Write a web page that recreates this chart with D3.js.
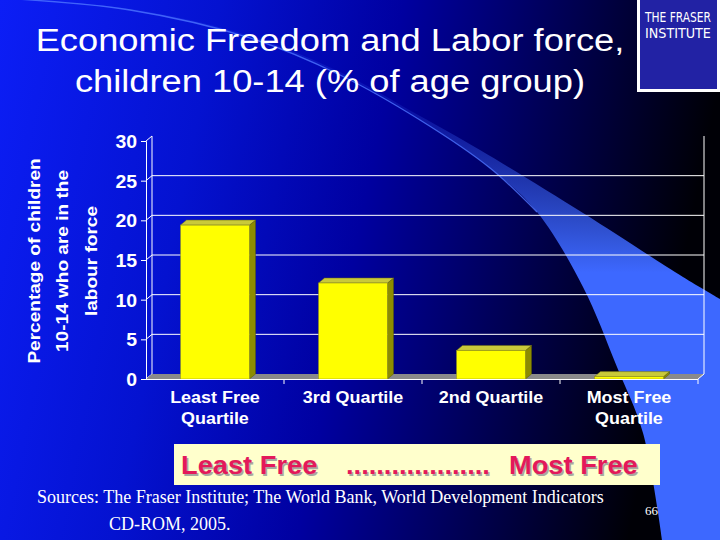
<!DOCTYPE html>
<html>
<head>
<meta charset="utf-8">
<script src="https://cdn.jsdelivr.net/npm/d3@7/dist/d3.min.js"></script>
<style>
  html, body { margin: 0; padding: 0; background: #000; }
  svg { display: block; }
</style>
</head>
<body>
<script>
// ---------- data ----------
const categories = ["Least Free Quartile", "3rd Quartile", "2nd Quartile", "Most Free Quartile"];
const categoryLines = [["Least Free", "Quartile"], ["3rd Quartile"], ["2nd Quartile"], ["Most Free", "Quartile"]];
const values = [19.4, 12.1, 3.6, 0.3];
const yTicks = [0, 5, 10, 15, 20, 25, 30];
const titleLines = ["Economic Freedom and Labor force,", "children 10-14 (% of age group)"];
const yTitleLines = ["Percentage of children", "10-14 who are in the", "labour force"];
const sourceLines = ["Sources: The Fraser Institute; The World Bank, World Development Indicators", "CD-ROM, 2005."];
const logoLines = ["THE FRASER", "INSTITUTE"];

// ---------- setup ----------
const W = 720, H = 540;
const svg = d3.select("body").append("svg").attr("width", W).attr("height", H);
const defs = svg.append("defs");

function stretch(sel, k) {
  sel.each(function () {
    const len = this.getComputedTextLength();
    d3.select(this).attr("textLength", len * k).attr("lengthAdjust", "spacingAndGlyphs");
  });
}

// background gradient
const bg = defs.append("linearGradient").attr("id", "bg").attr("x1", 0).attr("y1", 0).attr("x2", 1).attr("y2", 0.15);
[[0, "#0c1ef6"], [0.3, "#0412d0"], [0.55, "#0000a0"], [0.8, "#00004a"], [1, "#000006"]].forEach(([o, c]) =>
  bg.append("stop").attr("offset", o).attr("stop-color", c));
svg.append("rect").attr("width", W).attr("height", H).attr("fill", "url(#bg)");

// swoosh
const sw = defs.append("linearGradient").attr("id", "sw")
  .attr("gradientUnits", "userSpaceOnUse").attr("x1", 0).attr("x2", 0).attr("y1", 110).attr("y2", 360);
[[0, 0.15], [0.35, 0.6], [0.65, 1], [1, 1]].forEach(([o, a]) =>
  sw.append("stop").attr("offset", o).attr("stop-color", "#3d68ff").attr("stop-opacity", a));

const lowerPts = [[0, -2], [130, 10], [250, 38], [340, 75], [420, 120], [490, 168], [537, 212], [583, 287], [617, 367], [643, 433], [662, 540]];
const upperPts = [[0, -2], [130, 9], [250, 36], [340, 72], [420, 116], [480, 150], [583, 213], [683, 277], [720, 299]];
const curve = d3.line().curve(d3.curveCatmullRom.alpha(0.5));
const upperD = curve(upperPts);
const lowerRev = curve(lowerPts.slice().reverse());
svg.append("path")
  .attr("d", upperD + "L720,540" + "L" + lowerRev.slice(1) + "Z")
  .attr("fill", "url(#sw)");
svg.append("path").attr("d", curve(lowerPts.slice(0, 7))).attr("fill", "none")
  .attr("stroke", "#4d74ff").attr("stroke-width", 1.3).attr("stroke-opacity", 0.8);

// ---------- title ----------
const title = svg.append("g").attr("font-family", "Arial, 'Liberation Sans', sans-serif").attr("fill", "#fff")
  .attr("font-size", 31).attr("text-anchor", "middle");
title.selectAll("text").data(titleLines).join("text")
  .attr("x", 330).attr("y", (d, i) => 51 + i * 41).text(d => d).call(stretch, 1.17);

// logo
const logo = svg.append("g");
logo.append("rect").attr("x", 637).attr("y", -2).attr("width", 86).attr("height", 94).attr("fill", "#ffffff");
logo.append("rect").attr("x", 640).attr("y", -2).attr("width", 77).attr("height", 91).attr("fill", "#2222a4");
logo.selectAll("text").data(logoLines).join("text")
  .attr("x", 0).attr("y", 0)
  .attr("font-family", "'Liberation Sans Narrow', 'DejaVu Sans Condensed', Arial, sans-serif")
  .attr("font-size", 14).attr("fill", "#fff")
  .text(d => d)
  .each(function (d, i) {
    const len = this.getComputedTextLength();
    d3.select(this).attr("transform", `translate(645,${22 + i * 16}) scale(${(66 / len).toFixed(3)},1)`);
  });

// ---------- chart ----------
const dx = 6, dy = 5;
const x0 = 146, x1 = 698;
const x = d3.scaleBand().domain(categories).range([x0, x1]).paddingInner(0.5).paddingOuter(0.25);
const y = d3.scaleLinear().domain([0, 30]).range([379, 141]);

const chart = svg.append("g");

// back wall gridlines (no line at top)
chart.selectAll("line.grid").data(yTicks.filter(t => t > 0 && t < 30)).join("line")
  .attr("x1", x0 + dx).attr("x2", x1 + dx).attr("y1", d => y(d) - dy).attr("y2", d => y(d) - dy)
  .attr("stroke", "#fff").attr("stroke-width", 1);
// side wall diagonals
chart.selectAll("line.diag").data(yTicks).join("line")
  .attr("x1", x0).attr("x2", x0 + dx).attr("y1", d => y(d)).attr("y2", d => y(d) - dy)
  .attr("stroke", "#fff").attr("stroke-width", 1);
// back wall verticals
[x0 + dx, x1 + dx].forEach(xx => chart.append("line")
  .attr("x1", xx).attr("x2", xx).attr("y1", y(30) - dy).attr("y2", y(0) - dy)
  .attr("stroke", "#fff").attr("stroke-width", 1));

// floor
chart.append("polygon")
  .attr("points", [[x0, y(0)], [x1, y(0)], [x1 + dx, y(0) - dy], [x0 + dx, y(0) - dy]].join(" "))
  .attr("fill", "#8a8a8a");
chart.append("line").attr("x1", x1).attr("y1", y(0)).attr("x2", x1 + dx).attr("y2", y(0) - dy)
  .attr("stroke", "#fff").attr("stroke-width", 1);

// bars
const bars = chart.selectAll("g.bar").data(values.map((v, i) => ({ v, c: categories[i] }))).join("g");
bars.append("polygon") // side
  .attr("points", d => {
    const xr = x(d.c) + x.bandwidth(), yt = y(d.v), yb = y(0);
    return [[xr, yt], [xr + dx, yt - dy], [xr + dx, yb - dy], [xr, yb]].join(" ");
  })
  .attr("fill", "#8c8c00").attr("stroke", "#5a5a00").attr("stroke-width", 0.5);
bars.append("polygon") // top
  .attr("points", d => {
    const xl = x(d.c), xr = xl + x.bandwidth(), yt = y(d.v);
    return [[xl, yt], [xl + dx, yt - dy], [xr + dx, yt - dy], [xr, yt]].join(" ");
  })
  .attr("fill", "#c9c93a").attr("stroke", "#6a6a10").attr("stroke-width", 0.5);
bars.append("rect") // front
  .attr("x", d => x(d.c)).attr("width", x.bandwidth())
  .attr("y", d => y(d.v)).attr("height", d => y(0) - y(d.v))
  .attr("fill", "#ffff00").attr("stroke", "#8a8a20").attr("stroke-width", 0.5);

// front axes
const yAxis = d3.axisLeft(y).tickValues(yTicks).tickSize(5).tickPadding(4);
const gy = chart.append("g").attr("transform", `translate(${x0},0)`).call(yAxis);
gy.select(".domain").attr("stroke", "#fff");
gy.selectAll(".tick line").attr("stroke", "#fff");
gy.selectAll(".tick text").attr("fill", "#fff").attr("font-size", 18).attr("font-weight", "bold")
  .attr("font-family", "Arial, 'Liberation Sans', sans-serif").attr("dy", "0.36em").call(stretch, 1.08);

const xAxis = d3.axisBottom(x).tickSize(0).tickFormat("");
const gx = chart.append("g").attr("transform", `translate(0,${y(0)})`).call(xAxis);
gx.select(".domain").attr("stroke", "#fff").attr("d", `M${x0},0.5H${x1}`);
// category separators
const bounds = categories.map(c => x(c) + x.bandwidth() + x.step() * x.paddingInner() / 2);
gx.selectAll("line.sep").data(bounds).join("line")
  .attr("x1", d => d).attr("x2", d => d).attr("y1", 0).attr("y2", 5).attr("stroke", "#fff");

// category labels
const cl = chart.append("g").attr("font-family", "Arial, 'Liberation Sans', sans-serif")
  .attr("font-weight", "bold").attr("font-size", 16).attr("fill", "#fff").attr("text-anchor", "middle");
categories.forEach((c, i) => {
  cl.selectAll(null).data(categoryLines[i]).join("text")
    .attr("x", x(c) + x.bandwidth() / 2).attr("y", (d, j) => 403 + j * 21).text(d => d).call(stretch, 1.12);
});

// y title
const yt = svg.append("g").attr("font-family", "Arial, 'Liberation Sans', sans-serif")
  .attr("font-weight", "bold").attr("font-size", 16).attr("fill", "#fff").attr("text-anchor", "middle");
yt.selectAll("text").data(yTitleLines).join("text")
  .attr("transform", (d, i) => `translate(${34 + i * 28.5},261) rotate(-90)`)
  .attr("dy", "0.36em").text(d => d).call(stretch, 1.19);

// ---------- bottom banner ----------
svg.append("rect").attr("x", 174).attr("y", 444).attr("width", 486).attr("height", 41).attr("fill", "#ffffcc");
const bannerParts = [["Least Free", 181], ["...................", 346], ["Most Free", 509]];
const ban = svg.append("g").attr("font-family", "Arial, 'Liberation Sans', sans-serif")
  .attr("font-weight", "bold").attr("font-size", 25);
ban.selectAll("text.sh").data(bannerParts).join("text").attr("class", "sh")
  .attr("x", d => d[1] + 1.5).attr("y", 475.5).attr("fill", "#a8a8a0").text(d => d[0]).call(stretch, 1.09);
ban.selectAll("text.fg").data(bannerParts).join("text").attr("class", "fg")
  .attr("x", d => d[1]).attr("y", 474).attr("fill", "#e3195a").text(d => d[0]).call(stretch, 1.09);

// sources
const src = svg.append("g").attr("font-family", "'Times New Roman', 'Liberation Serif', serif")
  .attr("font-size", 18).attr("fill", "#fff");
src.selectAll("text").data(sourceLines).join("text")
  .attr("x", (d, i) => i === 0 ? 37 : 109).attr("y", (d, i) => 503 + i * 27).text(d => d);
svg.append("text").attr("x", 645).attr("y", 515).attr("font-family", "'Times New Roman', 'Liberation Serif', serif")
  .attr("font-size", 13).attr("fill", "#fff").text("66");
</script>
</body>
</html>
